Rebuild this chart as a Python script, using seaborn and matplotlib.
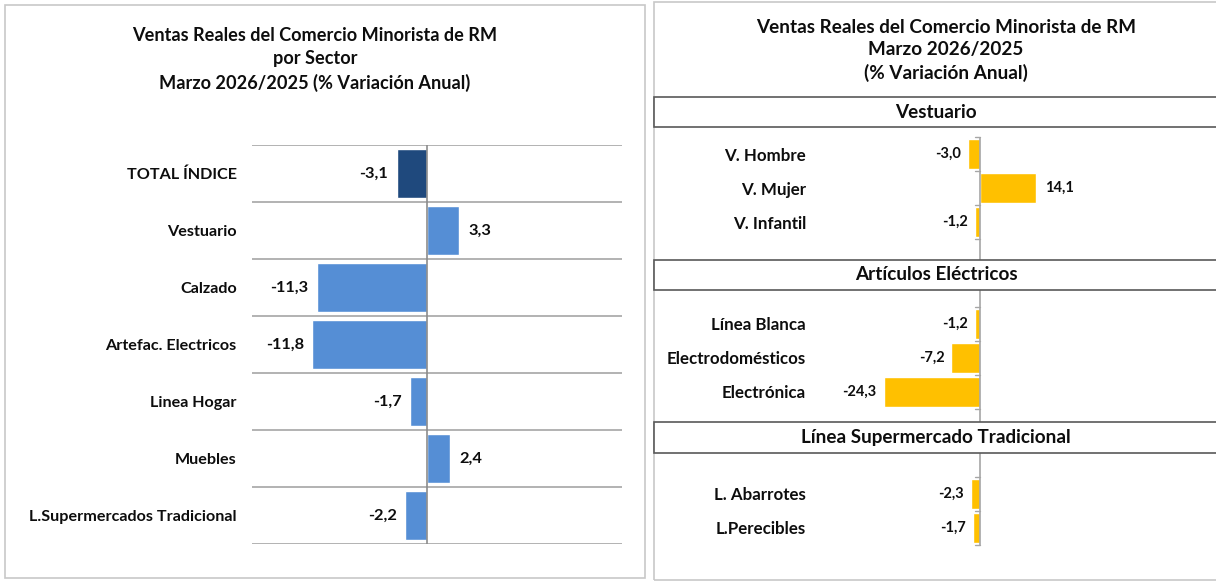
import numpy as np
import pandas as pd
import matplotlib
matplotlib.use("Agg")
import matplotlib.pyplot as plt
from matplotlib.patches import Rectangle
import seaborn as sns

# ---------------- data ----------------
sectores = ["TOTAL ÍNDICE", "Vestuario", "Calzado", "Artefac. Electricos",
            "Linea Hogar", "Muebles", "L.Supermercados Tradicional"]
var_sector = [-3.1, 3.3, -11.3, -11.8, -1.7, 2.4, -2.2]

titulo_izq = "Ventas Reales del Comercio Minorista de RM\npor Sector\nMarzo 2026/2025 (% Variación Anual)"
titulo_der = "Ventas Reales del Comercio Minorista de RM\nMarzo 2026/2025\n(% Variación Anual)"

grupos = ["Vestuario", "Artículos Eléctricos", "Línea Supermercado Tradicional"]
sub_vest = ["V. Hombre", "V. Mujer", "V. Infantil"]
val_vest = [-3.0, 14.1, -1.2]
sub_elec = ["Línea Blanca", "Electrodomésticos", "Electrónica"]
val_elec = [-1.2, -7.2, -24.3]
sub_super = ["L. Abarrotes", "L.Perecibles"]
val_super = [-2.3, -1.7]

# ---------------- style ----------------
sns.set_theme(style="white")
plt.rcParams["font.family"] = ["Lato", "DejaVu Sans"]
plt.rcParams["font.weight"] = "bold"

W, H = 1216, 582
fig = plt.figure(figsize=(W / 100, H / 100), dpi=100)
TXT = "#0d0d0d"


def px_axes(x0, y0, x1, y1):
    return fig.add_axes([x0 / W, 1 - y1 / H, (x1 - x0) / W, (y1 - y0) / H])


def fmt(v):
    return f"{v:.1f}".replace(".", ",")


# panel borders
fig.patches.append(Rectangle((5 / W, 1 - 578 / H), 640 / W, 573 / H, transform=fig.transFigure,
                             fill=False, edgecolor="#c8c8c8", lw=1.2))
fig.patches.append(Rectangle((654 / W, 1 - 580 / H), 570 / W, 578 / H, transform=fig.transFigure,
                             fill=False, edgecolor="#c8c8c8", lw=1.2))

# ---------------- left chart ----------------
df_l = pd.DataFrame({"Sector": sectores, "Valor": var_sector})
colors_l = ["#1F497D"] + ["#558ED5"] * (len(sectores) - 1)
axl = px_axes(252, 145, 622, 544)
sns.barplot(data=df_l, y="Sector", x="Valor", hue="Sector", palette=colors_l,
            order=sectores, width=0.87, legend=False, ax=axl, saturation=1)
axl.set_xlim(-18, 20.1)
axl.set_ylim(len(sectores) - 0.5, -0.5)
axl.set_xlabel("")
axl.set_ylabel("")
axl.set_xticks([])
axl.set_yticks(np.arange(-0.5, len(sectores), 1), minor=True)
axl.grid(axis="y", which="minor", color="#a6a6a6", lw=1.2)
axl.grid(axis="y", which="major", visible=False)
axl.tick_params(axis="y", which="both", length=0, pad=11, labelsize=11.6, labelcolor=TXT)
for lab in axl.get_yticklabels():
    lab.set_fontweight("bold")
axl.axvline(0, color="#8c8c8c", lw=1.2)
for s in axl.spines.values():
    s.set_visible(False)
for i, v in enumerate(var_sector):
    axl.annotate(fmt(v), (v, i), xytext=(7 if v > 0 else -6, 0), textcoords="offset points",
                 ha="left" if v > 0 else "right", va="center", fontsize=11.8, fontweight="bold",
                 color=TXT)
fig.text(315 / W, 1 - 59.5 / H, titulo_izq, ha="center", va="center", fontsize=13.1,
         fontweight="bold", linespacing=1.42, color=TXT)

# ---------------- right chart ----------------
orden_r = sub_vest + ["", " "] + sub_elec + ["  ", "   "] + sub_super
df_r = pd.DataFrame({"Item": sub_vest + sub_elec + sub_super,
                     "Valor": val_vest + val_elec + val_super})
axr = px_axes(820, 137, 1200, 545)
sns.barplot(data=df_r, y="Item", x="Valor", order=orden_r, color="#FFC000",
            width=0.88, ax=axr, saturation=1)
axr.set_xlim(-40.4, 55.6)
axr.set_ylim(len(orden_r) - 0.5, -0.5)
axr.set_xlabel("")
axr.set_ylabel("")
axr.set_xticks([])
axr.set_yticks(range(len(orden_r)))
axr.set_yticklabels([o.strip() for o in orden_r])
axr.tick_params(axis="y", which="major", length=0, pad=10, labelsize=12.2, labelcolor=TXT)
for lab in axr.get_yticklabels():
    lab.set_fontweight("bold")
for s in axr.spines.values():
    s.set_visible(False)
axr.axvline(0, color="#a6a6a6", lw=1.2)
ticks_minor = [b - 0.5 for b in [0, 1, 2, 3, 5, 6, 7, 8, 10, 11, 12]]
for t in ticks_minor:
    axr.plot([-1.3, 0], [t, t], color="#a6a6a6", lw=1, clip_on=False)
for item, v in zip(df_r["Item"], df_r["Valor"]):
    i = orden_r.index(item)
    axr.annotate(fmt(v), (v, i), xytext=(7 if v > 0 else -5, 0), textcoords="offset points",
                 ha="left" if v > 0 else "right", va="center", fontsize=10.5, fontweight="bold",
                 color=TXT)

fig.text(946 / W, 1 - 50.5 / H, titulo_der, ha="center", va="center", fontsize=13.6,
         fontweight="bold", linespacing=1.36, color=TXT)

# section header boxes
for name, (y0, y1) in zip(grupos, [(97, 127), (260, 290), (422, 453)]):
    fig.patches.append(Rectangle((654 / W, 1 - y1 / H), 570 / W, (y1 - y0) / H,
                                 transform=fig.transFigure, facecolor="white",
                                 edgecolor="#595959", lw=1.2, zorder=5))
    fig.text(936 / W, 1 - (y0 + y1) / 2 / H, name, ha="center", va="center", fontsize=13.6,
             fontweight="bold", color=TXT, zorder=6)

fig.savefig("out.png", dpi=100)
